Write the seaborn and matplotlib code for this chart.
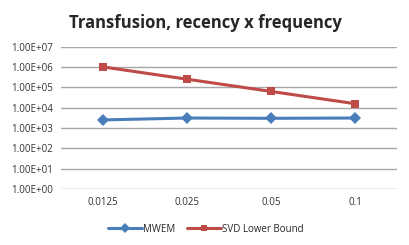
import matplotlib
matplotlib.use("Agg")
import matplotlib.pyplot as plt
import pandas as pd
import seaborn as sns

epsilons = ["0.0125", "0.025", "0.05", "0.1"]
mwem = [2.5e3, 3.1e3, 3.0e3, 3.1e3]
svd_lower = [1.0e6, 2.5e5, 6.25e4, 1.5625e4]
y_ticks = [1e0, 1e1, 1e2, 1e3, 1e4, 1e5, 1e6, 1e7]

df = pd.DataFrame({
    "eps": epsilons * 2,
    "value": mwem + svd_lower,
    "series": ["MWEM"] * 4 + ["SVD Lower Bound"] * 4,
})

sns.set_style("white")
plt.rcParams["font.family"] = ["Open Sans", "DejaVu Sans"]

fig, ax = plt.subplots(figsize=(4.09, 2.45), dpi=100)
fig.subplots_adjust(left=0.149, right=0.971, top=0.81, bottom=0.228)

sns.lineplot(data=df, x="eps", y="value", hue="series", style="series",
             palette={"MWEM": "#4A7EBB", "SVD Lower Bound": "#BE4B48"},
             markers={"MWEM": "D", "SVD Lower Bound": "s"},
             dashes=False, linewidth=2.2, markersize=6, markeredgewidth=0,
             sort=False, ax=ax)

ax.set_yscale("log")
ax.set_ylim(1e0, 1e7)
ax.set_yticks(y_ticks)
ax.set_yticklabels([f"{v:.2E}" for v in y_ticks])
ax.minorticks_off()
ax.set_xlim(-0.5, 3.5)
ax.yaxis.grid(True, color="#A6A6A6", linewidth=1)
ax.set_axisbelow(True)
for s in ax.spines.values():
    s.set_visible(False)
ax.tick_params(axis="both", length=0, labelsize=7, colors="#333333", pad=6)
ax.set_xlabel("")
ax.set_ylabel("")
ax.set_title("Transfusion, recency x frequency", fontsize=12, fontweight="bold",
             pad=13, x=0.43)

ax.legend(loc="upper center", bbox_to_anchor=(0.43, -0.18), ncol=2,
          frameon=False, fontsize=7, handlelength=3.5, handletextpad=0.1,
          columnspacing=1.2, markerscale=0.8)

fig.savefig("out.png", dpi=100)
